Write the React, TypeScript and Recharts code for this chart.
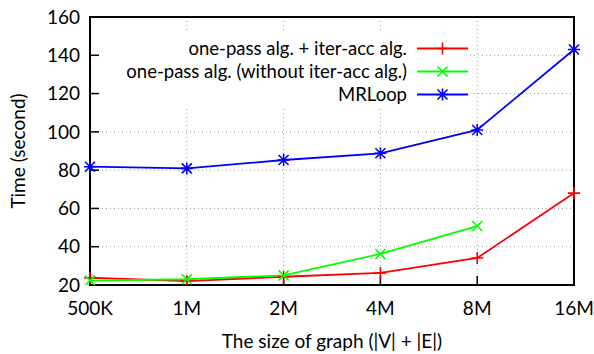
import { LineChart, Line, XAxis, YAxis, CartesianGrid, ReferenceArea } from 'recharts'

const sizes = ['500K', '1M', '2M', '4M', '8M', '16M']
const iterAcc = [23.8, 22, 24.3, 26.3, 34.1, 68]
const withoutIterAcc = [22.3, 23, 25, 36.2, 50.8, null]
const mrloop = [81.8, 80.9, 85.3, 88.8, 101, 143]
const yTicks = [20, 40, 60, 80, 100, 120, 140, 160]

const seriesNames = ['one-pass alg. + iter-acc alg.', 'one-pass alg. (without iter-acc alg.)', 'MRLoop']
const seriesKeys = ['iterAcc', 'withoutIterAcc', 'mrloop']
const seriesColors = ['#ff0000', '#00ff00', '#0000ff']
const seriesMarkers = ['plus', 'cross', 'star']

const data = sizes.map((s, i) => ({
  size: s,
  iterAcc: iterAcc[i],
  withoutIterAcc: withoutIterAcc[i],
  mrloop: mrloop[i],
}))

const FONT = 'Lato, "DejaVu Sans", sans-serif'

function markerPath(kind: string, cx: number, cy: number) {
  const r = 6
  const d = 5
  const plus = `M${cx - r},${cy}H${cx + r}M${cx},${cy - r}V${cy + r}`
  const cross = `M${cx - d},${cy - d}L${cx + d},${cy + d}M${cx - d},${cy + d}L${cx + d},${cy - d}`
  if (kind === 'plus') return plus
  if (kind === 'cross') return cross
  return plus + cross
}

function Marker({ cx, cy, kind, color }: { cx?: number; cy?: number; kind: string; color: string }) {
  if (cx == null || cy == null || isNaN(cx) || isNaN(cy)) return null
  return <path d={markerPath(kind, cx, cy)} stroke={color} strokeWidth={1.6} fill="none" />
}

function LegendBox() {
  return (
    <div
      style={{
        position: 'absolute',
        left: 100,
        top: 33,
        width: 370,
        height: 75,
        background: '#fff',
        paddingTop: 3.5,
        boxSizing: 'border-box',
      }}
    >
      {seriesNames.map((name, i) => (
        <div
          key={name}
          style={{ height: 23, display: 'flex', justifyContent: 'flex-end', alignItems: 'center' }}
        >
          <span style={{ fontSize: 18.5, color: '#000', marginRight: 10, whiteSpace: 'nowrap' }}>{name}</span>
          <svg width={53} height={23} style={{ display: 'block' }}>
            <line x1={0} x2={51} y1={11.5} y2={11.5} stroke={seriesColors[i]} strokeWidth={1.8} />
            <path d={markerPath(seriesMarkers[i], 25.5, 11.5)} stroke={seriesColors[i]} strokeWidth={1.6} fill="none" />
          </svg>
        </div>
      ))}
    </div>
  )
}

export default function App() {
  return (
    <div style={{ position: 'absolute', left: 0, top: 0, width: 594, height: 354, fontFamily: FONT, background: '#fff' }}>
      <LineChart width={594} height={354} data={data} margin={{ top: 17, right: 20, bottom: 0, left: 30 }}>
        <CartesianGrid stroke="#999" strokeDasharray="1 3" strokeWidth={1} />
        <XAxis
          dataKey="size"
          height={69}
          tickSize={-9}
          tickMargin={26}
          axisLine={{ stroke: '#000', strokeWidth: 2 }}
          tickLine={{ stroke: '#000', strokeWidth: 1.5 }}
          tick={{ fill: '#000', fontSize: 19, fontFamily: FONT }}
          interval={0}
        />
        <YAxis
          width={60}
          domain={[20, 160]}
          ticks={yTicks}
          tickSize={-9}
          tickMargin={19}
          axisLine={{ stroke: '#000', strokeWidth: 2 }}
          tickLine={{ stroke: '#000', strokeWidth: 1.5 }}
          tick={{ fill: '#000', fontSize: 19, fontFamily: FONT }}
          allowDataOverflow
        />
        <ReferenceArea
          x1="500K"
          x2="16M"
          y1={20}
          y2={160}
          fill="none"
          fillOpacity={0}
          stroke="#000"
          strokeWidth={2}
          ifOverflow="visible"
        />
        {seriesKeys.map((k, i) => (
          <Line
            key={k}
            dataKey={k}
            name={seriesNames[i]}
            stroke={seriesColors[i]}
            strokeWidth={1.8}
            isAnimationActive={false}
            connectNulls={false}
            dot={(p: any) => (
              <Marker key={`${k}-${p.index}`} cx={p.cx} cy={p.cy} kind={seriesMarkers[i]} color={seriesColors[i]} />
            )}
            activeDot={false}
          />
        ))}
      </LineChart>
      <LegendBox />
      <div
        style={{
          position: 'absolute',
          left: 0,
          width: 664,
          top: 329,
          textAlign: 'center',
          fontSize: 19,
          color: '#000',
          whiteSpace: 'nowrap',
        }}
      >
        The size of graph (|V| + |E|)
      </div>
      <div
        style={{
          position: 'absolute',
          left: 17,
          top: 151,
          transform: 'translate(-50%, -50%) rotate(-90deg)',
          fontSize: 19,
          color: '#000',
          whiteSpace: 'nowrap',
        }}
      >
        Time (second)
      </div>
    </div>
  )
}
